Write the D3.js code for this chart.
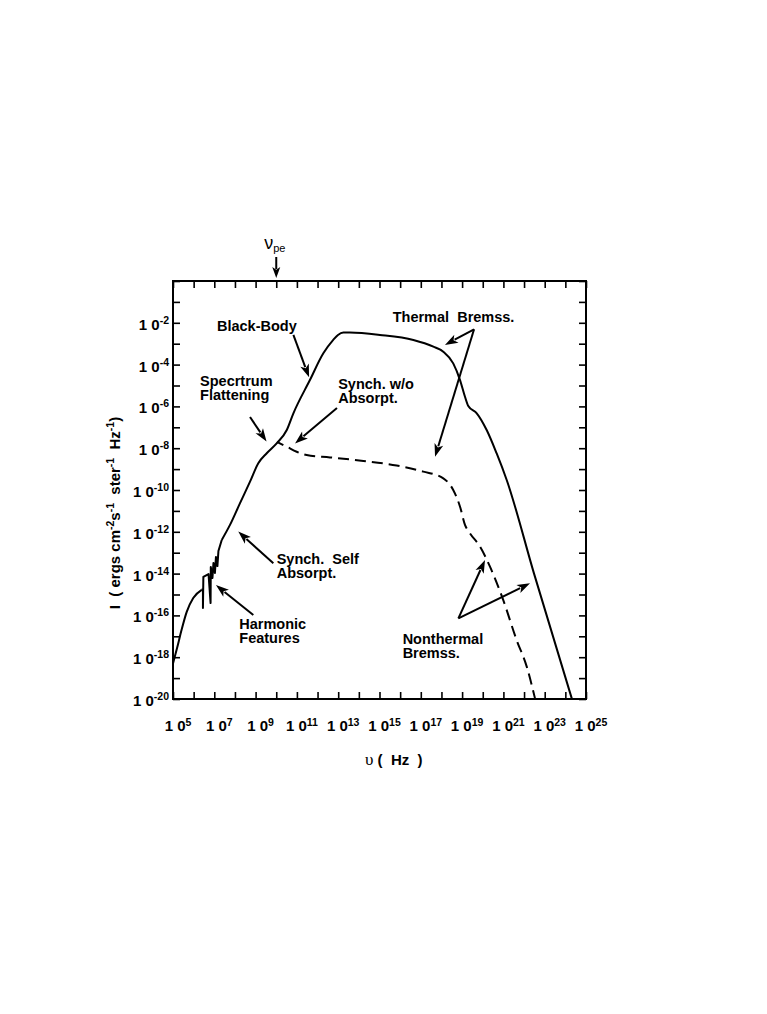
<!DOCTYPE html>
<html>
<head>
<meta charset="utf-8">
<script src="https://cdn.jsdelivr.net/npm/d3@7/dist/d3.min.js"></script>
<style>
body { margin: 0; background: #fff; }
text { font-family: "Liberation Sans", Arial, Helvetica, sans-serif; fill: #000; }
</style>
</head>
<body>
<div id="ChartWrapper"></div>
<script>
// All values are log10: frequency in Hz, intensity in ergs cm^-2 s^-1 ster^-1 Hz^-1.
// Low-frequency part with the harmonic spikes.
const harmonicLogNu = [5.00, 5.20, 5.40, 5.66, 5.98, 6.39, 6.45, 6.45, 6.47, 6.72, 6.82, 6.83, 6.91, 6.96, 7.03, 7.08, 7.15, 7.20, 7.36];
const harmonicLogI = [-18.30, -17.55, -16.75, -15.84, -15.17, -14.78, -14.74, -15.65, -14.16, -14.02, -15.41, -13.68, -14.21, -13.49, -13.97, -13.20, -13.64, -12.92, -12.39];
const harmonicSmoothCount = 6; // first points form a smooth rise, the rest are spikes

// Rest of the solid spectrum (black-body / thermal bremss.)
const solidLogNu = [7.36, 7.76, 8.24, 8.73, 9.13, 9.54, 10.02, 10.51, 10.83, 11.63, 12.28, 12.76, 12.99, 13.25, 13.57, 15.02, 16.64, 17.61, 18.09, 18.57, 18.90, 19.14, 19.30, 19.71, 20.19, 20.67, 21.16, 22.48, 24.31];
const solidLogI = [-12.39, -11.67, -10.64, -9.60, -8.72, -8.24, -7.77, -7.13, -6.33, -4.74, -3.46, -2.82, -2.58, -2.47, -2.47, -2.58, -2.82, -3.14, -3.38, -3.94, -4.74, -5.54, -5.98, -6.33, -7.13, -8.24, -9.52, -13.99, -19.97];

// Synchrotron without absorption + nonthermal bremss. (dashed)
const dashedLogNu = [10.04, 10.51, 10.99, 11.47, 12.60, 14.22, 15.83, 17.12, 18.09, 18.57, 18.90, 19.14, 19.38, 19.87, 20.35, 20.99, 21.64, 22.13, 22.53];
const dashedLogI = [-7.70, -7.93, -8.17, -8.33, -8.44, -8.61, -8.83, -9.12, -9.44, -10.00, -10.80, -11.67, -12.07, -12.71, -13.67, -15.26, -17.18, -18.45, -19.97];

// Axis ticks and labels
const xTickExp = [5, 6, 7, 8, 9, 10, 11, 12, 13, 14, 15, 16, 17, 18, 19, 20, 21, 22, 23, 24, 25];
const xLabelExp = ["5", "7", "9", "11", "13", "15", "17", "19", "21", "23", "25"];
const yTickExp = [-20, -19, -18, -17, -16, -15, -14, -13, -12, -11, -10, -9, -8, -7, -6, -5, -4, -3, -2, -1, 0];
const yLabelExp = ["-2", "-4", "-6", "-8", "-10", "-12", "-14", "-16", "-18", "-20"];

// Plasma frequency marker
const nuPeLog = 10.0;

// Annotations (text anchored at log nu / log I of the first baseline)
const noteLines = [["Black-Body"], ["Thermal  Bremss."], ["Specrtrum", "Flattening"], ["Synch. w/o", "Absorpt."],
                   ["Synch.  Self", "Absorpt."], ["Harmonic", "Features"], ["Nonthermal", "Bremss."]];
const noteLogNu = [7.13, 15.64, 6.31, 13.00, 10.02, 8.21, 16.12];
const noteLogI = [-2.39, -1.96, -5.01, -5.17, -13.54, -16.65, -17.38];

// Arrows: [from log nu, from log I, to log nu, to log I]
const arrowList = [
    [10.83, -2.58, 11.59, -4.61],
    [8.73, -6.51, 9.53, -7.68],
    [12.94, -6.08, 10.91, -7.77],
    [19.58, -2.31, 18.17, -3.06],
    [19.58, -2.31, 17.69, -8.41],
    [9.86, -13.51, 8.16, -11.99],
    [8.89, -15.98, 7.08, -14.55],
    [18.82, -16.14, 20.11, -13.35],
    [18.82, -16.14, 22.29, -14.46]
];

const Width = 767, Height = 1014;
const Plot = {left: 173, right: 586, top: 281, bottom: 699};
const TickLen = 7;

let Svg = d3.select("#ChartWrapper").append("svg")
    .attr("width", Width).attr("height", Height);

let ScaleX = d3.scaleLog().domain([1e5, 1e25]).range([Plot.left, Plot.right]);
let ScaleY = d3.scaleLog().domain([1e-20, 1]).range([Plot.bottom, Plot.top]);
const px = v => ScaleX(Math.pow(10, v));
const py = v => ScaleY(Math.pow(10, v));

// Inward ticks on all four sides
const xTicks = xTickExp.map(v => Math.pow(10, v));
const yTicks = yTickExp.map(v => Math.pow(10, v));
function tickAxis(axis, transform)
{
    let g = Svg.append("g").attr("transform", transform).call(axis);
    g.select(".domain").remove();
    g.selectAll(".tick line").attr("stroke", "#000").attr("stroke-width", 1.6);
}
tickAxis(d3.axisBottom(ScaleX).tickValues(xTicks).tickSize(-TickLen).tickFormat(""), `translate(0,${Plot.bottom})`);
tickAxis(d3.axisTop(ScaleX).tickValues(xTicks).tickSize(-TickLen).tickFormat(""), `translate(0,${Plot.top})`);
tickAxis(d3.axisLeft(ScaleY).tickValues(yTicks).tickSize(-TickLen).tickFormat(""), `translate(${Plot.left},0)`);
tickAxis(d3.axisRight(ScaleY).tickValues(yTicks).tickSize(-TickLen).tickFormat(""), `translate(${Plot.right},0)`);

Svg.append("rect")
    .attr("x", Plot.left).attr("y", Plot.top)
    .attr("width", Plot.right - Plot.left).attr("height", Plot.bottom - Plot.top)
    .attr("fill", "none").attr("stroke", "#000").attr("stroke-width", 2);

// Tick labels, written as "1 0" with a superscript exponent
xLabelExp.forEach(ex => {
    let t = Svg.append("text")
        .attr("x", px(+ex) + 5).attr("y", Plot.bottom + 32)
        .attr("text-anchor", "middle")
        .style("font-size", "15px").style("font-weight", "bold").style("white-space", "pre");
    t.append("tspan").text("1 0");
    t.append("tspan").attr("dy", -5.5).style("font-size", "10.5px").text(ex);
});
yLabelExp.forEach(ex => {
    let t = Svg.append("text")
        .attr("x", Plot.left - 4).attr("y", py(+ex) + 7)
        .attr("text-anchor", "end")
        .style("font-size", "15px").style("font-weight", "bold").style("white-space", "pre");
    t.append("tspan").text("1 0");
    t.append("tspan").attr("dy", -6).style("font-size", "10.5px").text(ex);
});

// Axis titles
let TitleX = Svg.append("text")
    .attr("x", 365).attr("y", 765)
    .style("font-size", "15px").style("font-weight", "bold").style("white-space", "pre");
TitleX.append("tspan").style("font-family", "'Liberation Serif', 'Times New Roman', serif")
    .style("font-weight", "normal").style("font-size", "17px").text("\u03C5");
TitleX.append("tspan").text(" (  Hz  )");

let TitleY = Svg.append("text")
    .attr("transform", `translate(120, ${(Plot.top + Plot.bottom) / 2 + 23}) rotate(-90)`)
    .attr("text-anchor", "middle")
    .style("font-size", "15px").style("font-weight", "bold").style("white-space", "pre");
[["I  ( ergs cm", 0], ["-2", 1], ["s", 0], ["-1", 1], ["  ster", 0], ["-1", 1], ["  Hz", 0], ["-1", 1], [")", 0]]
    .forEach(([s, sup], i, arr) => {
        let dy = 0;
        if(sup) dy = -6;
        else if(i > 0 && arr[i - 1][1]) dy = 6;
        TitleY.append("tspan").attr("dy", dy).style("font-size", sup ? "10.5px" : "15px").text(s);
    });

// Spectrum curves
let LineStraight = d3.line().x(d => px(d[0])).y(d => py(d[1])).curve(d3.curveLinear);
let LineSmooth = d3.line().x(d => px(d[0])).y(d => py(d[1])).curve(d3.curveMonotoneX);

const HarmonicPts = harmonicLogNu.map((v, i) => [v, harmonicLogI[i]]);
Svg.append("path")
    .attr("d", LineSmooth(HarmonicPts.slice(0, harmonicSmoothCount)))
    .attr("fill", "none").attr("stroke", "#000").attr("stroke-width", 2);
Svg.append("path")
    .attr("d", LineStraight(HarmonicPts.slice(harmonicSmoothCount - 1)))
    .attr("fill", "none").attr("stroke", "#000").attr("stroke-width", 2).attr("stroke-linejoin", "round");
Svg.append("path")
    .attr("d", LineSmooth(solidLogNu.map((v, i) => [v, solidLogI[i]])))
    .attr("fill", "none").attr("stroke", "#000").attr("stroke-width", 2);
Svg.append("path")
    .attr("d", LineSmooth(dashedLogNu.map((v, i) => [v, dashedLogI[i]])))
    .attr("fill", "none").attr("stroke", "#000").attr("stroke-width", 2)
    .attr("stroke-dasharray", "11,6").attr("stroke-dashoffset", 4);

// Arrows with filled heads
function drawArrow(x1, y1, x2, y2, headLen, headW)
{
    const Ang = Math.atan2(y2 - y1, x2 - x1);
    const Cx = Math.cos(Ang), Sx = Math.sin(Ang);
    const Bx = x2 - headLen * Cx, By = y2 - headLen * Sx;
    Svg.append("line")
        .attr("x1", x1).attr("y1", y1).attr("x2", Bx + 2 * Cx).attr("y2", By + 2 * Sx)
        .attr("stroke", "#000").attr("stroke-width", 2);
    Svg.append("path")
        .attr("d", `M${x2},${y2} L${Bx - headW * Sx},${By + headW * Cx} L${Bx + 0.25 * headLen * Cx},${By + 0.25 * headLen * Sx} L${Bx + headW * Sx},${By - headW * Cx} Z`)
        .attr("fill", "#000");
}
arrowList.forEach(a => drawArrow(px(a[0]), py(a[1]), px(a[2]), py(a[3]), 13, 4.5));

// Annotation text
noteLines.forEach((lines, i) => {
    let t = Svg.append("text")
        .attr("x", px(noteLogNu[i])).attr("y", py(noteLogI[i]))
        .style("font-size", "14.5px").style("font-weight", "bold").style("white-space", "pre");
    lines.forEach((s, j) => t.append("tspan")
        .attr("x", px(noteLogNu[i])).attr("dy", j == 0 ? 0 : 14).text(s));
});

// nu_pe marker above the frame
let NuPe = Svg.append("text").attr("x", px(nuPeLog) - 12).attr("y", 249).style("font-size", "18px");
NuPe.append("tspan").text("\u03BD");
NuPe.append("tspan").attr("dy", 3).style("font-size", "11px").text("pe");
drawArrow(px(nuPeLog), Plot.top - 24, px(nuPeLog), Plot.top - 3, 11, 4);
</script>
</body>
</html>
